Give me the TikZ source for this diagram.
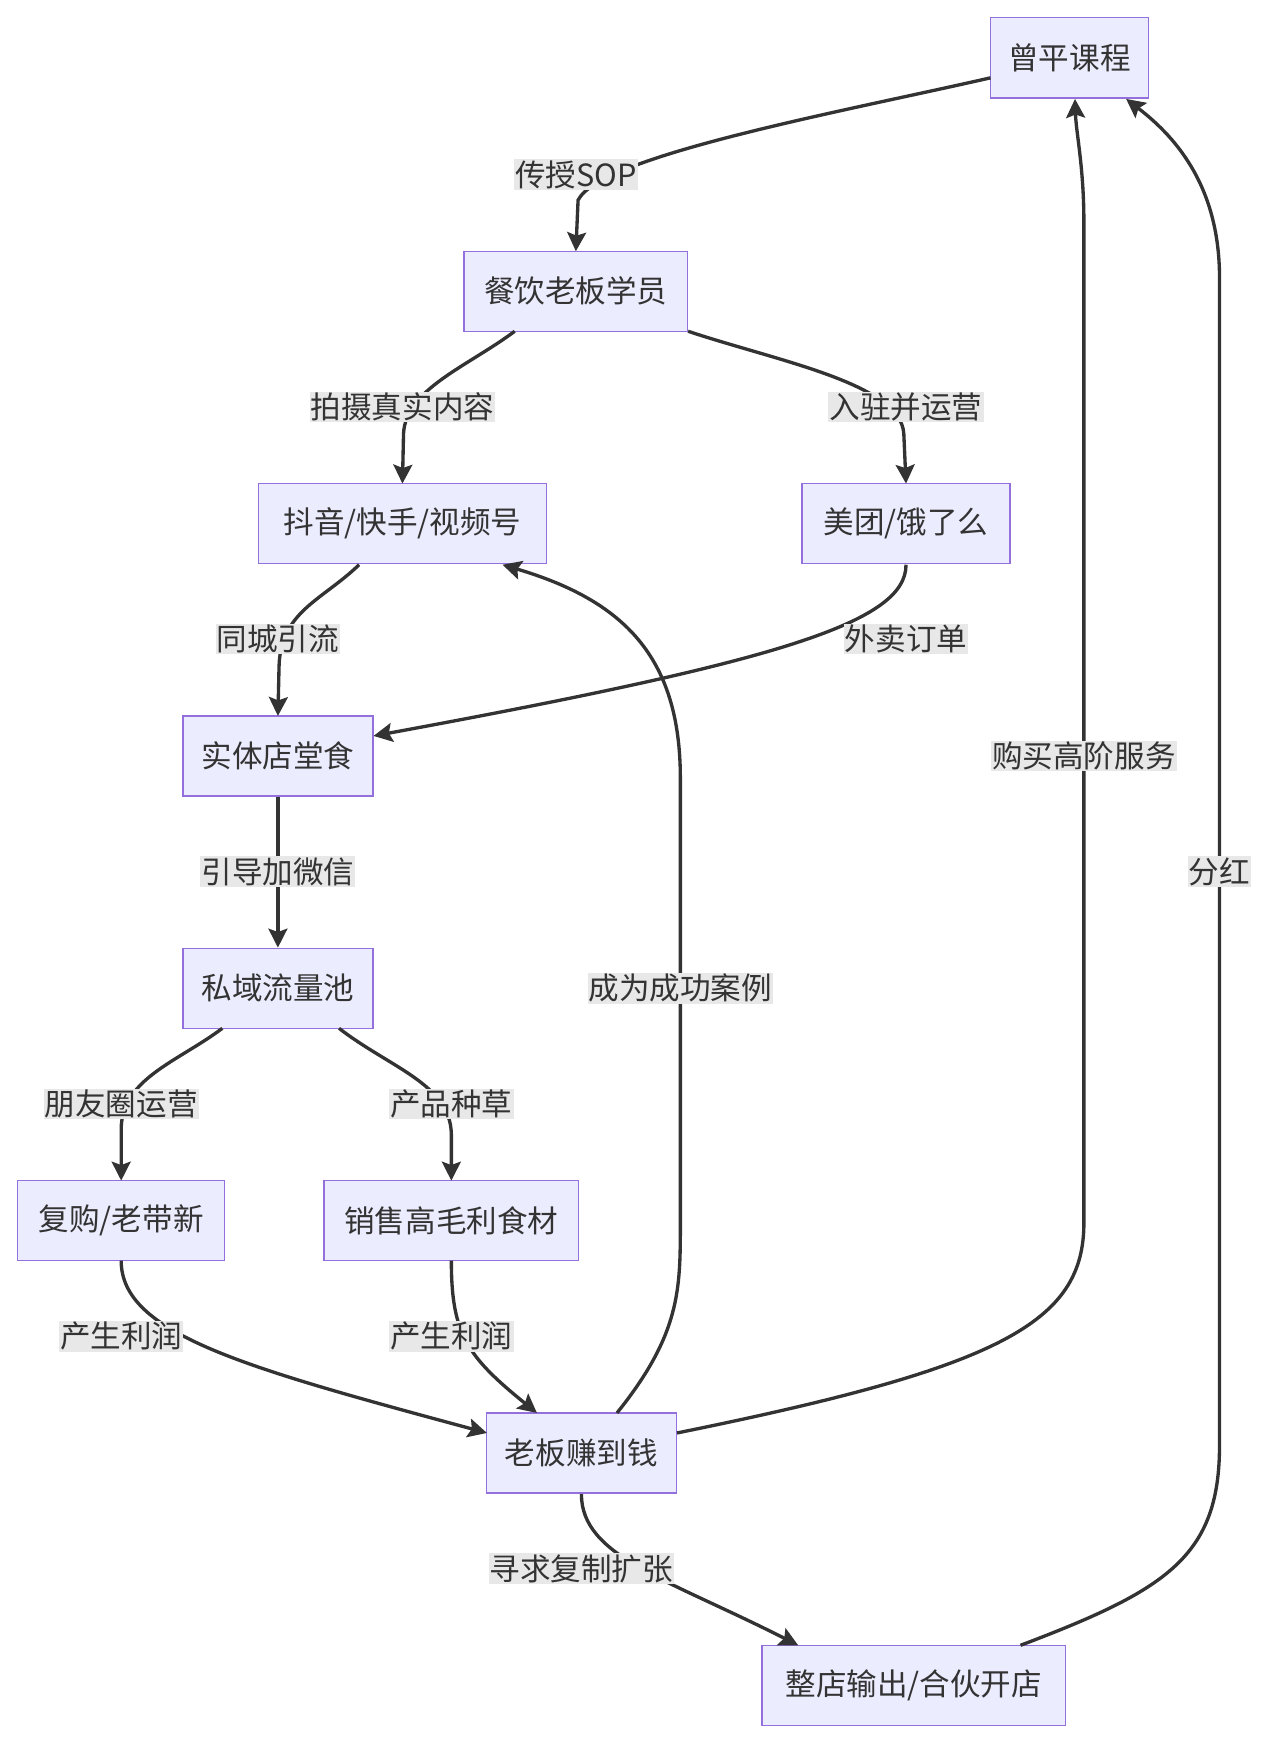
\documentclass[tikz,border=0pt]{standalone}
\usepackage{fontspec}
\setmainfont{Noto Sans CJK SC}
\usetikzlibrary{arrows.meta}
\definecolor{nf}{HTML}{ECECFF}\definecolor{nd}{HTML}{9370DB}\definecolor{tx}{HTML}{333333}\definecolor{lb}{HTML}{E8E8E8}
\begin{document}
\begin{tikzpicture}[x=1pt,y=-1pt,
 box/.style={draw=nd,fill=nf,line width=1.2pt,minimum height=72pt,inner xsep=0pt,text=tx,font=\fontsize{27.5}{30}\selectfont},
 lab/.style={fill=lb,text=tx,inner sep=1pt,font=\fontsize{27.5}{30}\selectfont},
 ed/.style={draw=tx,line width=3pt,-{Stealth[length=17pt,width=17pt,inset=3pt]}}]
\useasboundingbox (0,0) rectangle (1140,1567);
\node[box,minimum width=142pt] (A) at (962,52) {曾平课程};
\node[box,minimum width=201pt] (B) at (518,262) {餐饮老板学员};
\node[box,minimum width=259pt] (C) at (362,471) {抖音/快手/视频号};
\node[box,minimum width=187pt] (D) at (815,471) {美团/饿了么};
\node[box,minimum width=171pt] (E) at (250,680) {实体店堂食};
\node[box,minimum width=171pt] (F) at (250,889) {私域流量池};
\node[box,minimum width=186pt] (G) at (109,1098) {复购/老带新};
\node[box,minimum width=229pt] (H) at (406,1098) {销售高毛利食材};
\node[box,minimum width=171pt] (I) at (523,1307) {老板赚到钱};
\node[box,minimum width=273pt] (J) at (822,1516) {整店输出/合伙开店};
\coordinate (Ab) at (967,89); \coordinate (Abr) at (1013,89);
\coordinate (Ct) at (452,508);
\draw[ed] (891,70) .. controls (760,100) and (540,140) .. (520,180) -- (518,226);
\draw[ed] (463,298) .. controls (420,330) and (365,350) .. (363,390) -- (362,435);
\draw[ed] (619,298) .. controls (700,325) and (810,345) .. (813,390) -- (815,435);
\draw[ed] (323,508) .. controls (290,540) and (252,550) .. (251,600) -- (250,644);
\draw[ed] (815,508) .. controls (815,560) and (700,595) .. (336,662);
\draw[ed] (E) -- (F);
\draw[ed] (200,925) .. controls (160,955) and (110,970) .. (109,1015) -- (109,1062);
\draw[ed] (305,925) .. controls (350,960) and (405,975) .. (406,1020) -- (406,1062);
\draw[ed] (109,1134) .. controls (109,1200) and (220,1230) .. (438,1289);
\draw[ed] (406,1134) .. controls (406,1200) and (420,1220) .. (483,1271);
\draw[ed] (555,1271) .. controls (612,1200) and (612,1160) .. (612,1100) -- (612,700) .. controls (612,590) and (560,540) .. (Ct);
\draw[ed] (609,1289) .. controls (900,1230) and (975,1190) .. (975,1100) -- (975,200) .. controls (975,150) and (968,120) .. (Ab);
\draw[ed] (523,1344) .. controls (523,1400) and (600,1420) .. (718,1480);
\draw[ed] (918,1480) .. controls (1050,1430) and (1097,1400) .. (1097,1300) -- (1097,250) .. controls (1097,170) and (1060,125) .. (Abr);
\node[lab] (l1) at (518,157) {传授SOP};
\node[lab] (l2) at (362,366) {拍摄真实内容};
\node[lab] (l3) at (815,366) {入驻并运营};
\node[lab] (l4) at (250,575) {同城引流};
\node[lab] (l5) at (815,575) {外卖订单};
\node[lab] (l6) at (250,784) {引导加微信};
\node[lab] (l7) at (109,993) {朋友圈运营};
\node[lab] (l8) at (406,993) {产品种草};
\node[lab] (l9) at (109,1202) {产生利润};
\node[lab] (l10) at (406,1202) {产生利润};
\node[lab] (l11) at (612,889) {成为成功案例};
\node[lab] (l12) at (975,680) {购买高阶服务};
\node[lab] (l13) at (523,1411) {寻求复制扩张};
\node[lab] (l14) at (1097,784) {分红};
\end{tikzpicture}
\end{document}
